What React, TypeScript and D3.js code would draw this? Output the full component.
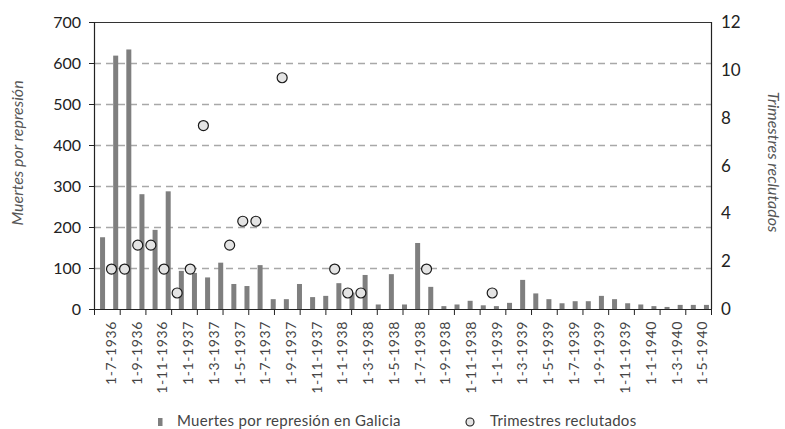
import React from 'react';
import * as d3 from 'd3';

// monthly categories, Jul 1936 - May 1940
const months = [
  '7-1936', '8-1936', '9-1936', '10-1936', '11-1936', '12-1936',
  '1-1937', '2-1937', '3-1937', '4-1937', '5-1937', '6-1937', '7-1937', '8-1937', '9-1937', '10-1937', '11-1937', '12-1937',
  '1-1938', '2-1938', '3-1938', '4-1938', '5-1938', '6-1938', '7-1938', '8-1938', '9-1938', '10-1938', '11-1938', '12-1938',
  '1-1939', '2-1939', '3-1939', '4-1939', '5-1939', '6-1939', '7-1939', '8-1939', '9-1939', '10-1939', '11-1939', '12-1939',
  '1-1940', '2-1940', '3-1940', '4-1940', '5-1940',
];

const deaths = [
  175, 618, 633, 280, 193, 287,
  93, 88, 77, 113, 61, 56, 107, 24, 24, 61, 29, 32,
  63, 40, 83, 11, 85, 11, 161, 54, 7, 11, 20, 9,
  7, 15, 71, 38, 24, 14, 19, 19, 32, 24, 14, 11,
  7, 5, 10, 10, 10,
];

const recruitMonths = [
  '8-1936', '9-1936', '10-1936', '11-1936', '12-1936', '1-1937', '2-1937', '3-1937',
  '5-1937', '6-1937', '7-1937', '9-1937', '1-1938', '2-1938', '3-1938', '8-1938', '1-1939',
];
const recruitValues = [
  1.67, 1.67, 2.67, 2.67, 1.67, 0.67, 1.67, 7.67,
  2.67, 3.67, 3.67, 9.67, 1.67, 0.67, 0.67, 1.67, 0.67,
];

const xLabels = [
  '1-7-1936', '1-9-1936', '1-11-1936', '1-1-1937', '1-3-1937', '1-5-1937', '1-7-1937', '1-9-1937',
  '1-11-1937', '1-1-1938', '1-3-1938', '1-5-1938', '1-7-1938', '1-9-1938', '1-11-1938', '1-1-1939',
  '1-3-1939', '1-5-1939', '1-7-1939', '1-9-1939', '1-11-1939', '1-1-1940', '1-3-1940', '1-5-1940',
];

const leftTicks = [0, 100, 200, 300, 400, 500, 600, 700];
const rightTicks = [0, 2, 4, 6, 8, 10, 12];

const W = 785;
const H = 429;
const left = 94;
const right = 711;
const top = 22;
const bottom = 309;
const font = 'Lato, "Open Sans", sans-serif';

const App: React.FC = () => {
  const x = d3.scaleBand<string>().domain(months).range([left, right]).padding(0);
  const xl = d3.scaleBand<string>().domain(xLabels).range([left, right]).padding(0);
  const yL = d3.scaleLinear().domain([0, 700]).range([bottom, top]);
  const yR = d3.scaleLinear().domain([0, 12]).range([bottom, top]);
  const bw = x.bandwidth();
  const lw = xl.bandwidth();

  const tickXs = xLabels.map(l => xl(l)!).concat([right]);

  return (
    <div style={{ position: 'absolute', left: 0, top: 0 }}>
      <svg width={W} height={H} viewBox={`0 0 ${W} ${H}`} style={{ display: 'block', background: '#fff' }}>
        {/* grid */}
        {leftTicks.filter(t => t > 0 && t < 700).map(t => (
          <line key={t} x1={left} x2={right} y1={Math.round(yL(t)) + 0.5} y2={Math.round(yL(t)) + 0.5}
            stroke="#a8a8a8" strokeWidth={1.3} strokeDasharray="7,5" />
        ))}

        {/* bars */}
        {deaths.map((d, i) => (
          <rect key={i} x={x(months[i])! + bw / 2 + 2 - 2.5} y={yL(d)} width={5} height={bottom - yL(d)} fill="#7f7f7f" />
        ))}

        {/* frame */}
        <line x1={left} x2={right} y1={top + 0.5} y2={top + 0.5} stroke="#333" strokeWidth={1.2} />
        <line x1={left + 0.5} x2={left + 0.5} y1={top} y2={bottom} stroke="#222" strokeWidth={1.2} />
        <line x1={right + 0.5} x2={right + 0.5} y1={top} y2={bottom} stroke="#222" strokeWidth={1.2} />
        <line x1={left} x2={right + 1} y1={bottom + 0.5} y2={bottom + 0.5} stroke="#222" strokeWidth={1.2} />

        {/* recruitment circles */}
        {recruitValues.map((v, i) => (
          <circle key={i} cx={x(recruitMonths[i])! + bw / 2 - 2.2} cy={yR(v)} r={5}
            fill="#e4e4e4" stroke="#1a1a1a" strokeWidth={1.2} />
        ))}

        {/* left axis */}
        {leftTicks.map(t => (
          <g key={t}>
            <line x1={left - 5} x2={left} y1={Math.round(yL(t)) + 0.5} y2={Math.round(yL(t)) + 0.5} stroke="#222" />
            <text x={81} y={yL(t)} dy="0.36em" textAnchor="end" fontFamily={font} fontSize={16} fill="#222">{t}</text>
          </g>
        ))}

        {/* right axis */}
        {rightTicks.map(t => (
          <text key={t} x={721} y={yR(t)} dy="0.36em" textAnchor="start" fontFamily={font} fontSize={17} fill="#222">{t}</text>
        ))}

        {/* x axis */}
        {tickXs.map((tx, i) => (
          <line key={i} x1={tx + 0.5} x2={tx + 0.5} y1={bottom} y2={bottom + 6} stroke="#222" />
        ))}
        {xLabels.map(l => (
          <text key={l} transform={`translate(${xl(l)! + lw * 0.66},321) rotate(-90)`} dy="0.36em"
            textAnchor="end" fontFamily={font} fontSize={14} letterSpacing={0.6} fill="#444">{l}</text>
        ))}

        {/* axis titles */}
        <text transform="translate(17,153) rotate(-90)" dy="0.36em" textAnchor="middle" fontFamily={font}
          fontSize={16} fontStyle="italic" fill="#555">Muertes por represión</text>
        <text transform="translate(774,162) rotate(90)" dy="0.36em" textAnchor="middle" fontFamily={font}
          fontSize={16} fontStyle="italic" fill="#555">Trimestres reclutados</text>

        {/* legend */}
        <rect x={158} y={418} width={4.5} height={8} fill="#7f7f7f" />
        <text x={177} y={426} fontFamily={font} fontSize={15} letterSpacing={0.3} fill="#444">Muertes por represión en Galicia</text>
        <circle cx={470} cy={422} r={4} fill="#e4e4e4" stroke="#1a1a1a" strokeWidth={1.1} />
        <text x={490} y={426} fontFamily={font} fontSize={15} letterSpacing={0.3} fill="#444">Trimestres reclutados</text>
      </svg>
    </div>
  );
};

export default App;
